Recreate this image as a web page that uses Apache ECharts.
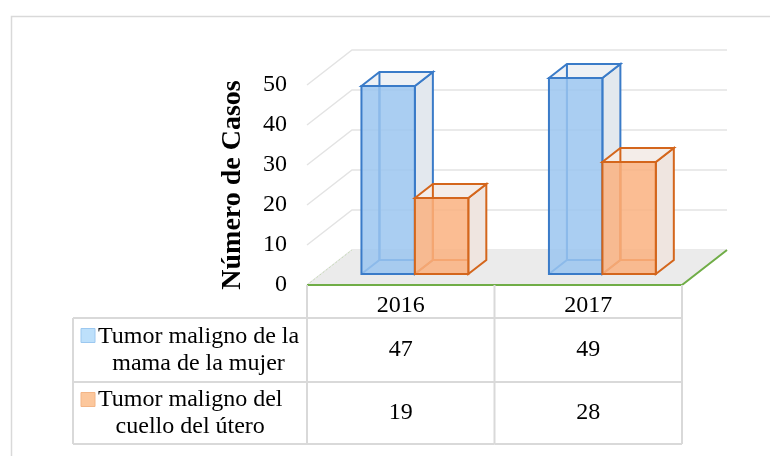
<!DOCTYPE html>
<html>
<head>
<meta charset="utf-8">
<script src="https://cdn.jsdelivr.net/npm/echarts@6/dist/echarts.min.js"></script>
<style>
  html, body { margin: 0; padding: 0; background: #fff; }
  #chart { width: 770px; height: 456px; }
</style>
</head>
<body>
<div id="chart"></div>
<script>
// data
const categories = ['2016', '2017'];
const seriesNames = ['Tumor maligno de la\nmama de la mujer', 'Tumor maligno del\ncuello del útero'];
const mama = [47, 49];
const cuello = [19, 28];
const yTicks = [0, 10, 20, 30, 40, 50];

// fake 3d depth of the floor
const DX = 45, DY = 35;
const FONT = 'Liberation Serif';
const TXT = 24;

const barColors = [
  { stroke: '#3a7bc8', front: 'rgba(155,198,240,0.85)', side: '#e3e8ee', top: '#eef1f5', key: '#bde0fb', keyStroke: '#9cc8f0' },
  { stroke: '#d4661c', front: 'rgba(250,178,128,0.85)', side: '#efe5e0', top: '#f4ede9', key: '#fcc79c', keyStroke: '#f3b586' }
];

const measure = document.createElement('canvas').getContext('2d');
measure.font = TXT + 'px "' + FONT + '"';

function wallItem(params, api) {
  const y = api.coord([0, api.value(1)])[1];
  const gx = params.coordSys.x, gw = params.coordSys.width;
  return {
    type: 'polyline',
    shape: { points: [[gx, y], [gx + DX, y - DY], [gx + gw + DX, y - DY]] },
    style: { stroke: '#e3e3e3', lineWidth: 1.5, fill: null }
  };
}

function floorItem(params, api) {
  const gx = params.coordSys.x, gw = params.coordSys.width;
  const y = api.coord([0, 0])[1];
  return {
    type: 'group',
    children: [
      { type: 'polygon', shape: { points: [[gx, y], [gx + gw, y], [gx + gw + DX, y - DY], [gx + DX, y - DY]] },
        style: { fill: '#ebebeb' } },
      { type: 'line', shape: { x1: gx, y1: y, x2: gx + DX, y2: y - DY },
        style: { stroke: '#c8dcb8', lineWidth: 1, lineDash: [2, 2] } },
      { type: 'polyline', shape: { points: [[gx, y], [gx + gw, y], [gx + gw + DX, y - DY]] },
        style: { stroke: '#70ad47', lineWidth: 2, fill: null } }
    ]
  };
}

function barItem(idx) {
  const c = barColors[idx];
  return function (params, api) {
    const cat = api.value(0), v = api.value(1);
    const base = api.coord([cat, 0]);
    const top = api.coord([cat, v]);
    const band = api.size([1, 0])[0];
    const bw = band * 0.285;
    const fx = DX * 0.314, fy = DY * 0.314;
    const dx = DX * 0.4, dy = DY * 0.4;
    const x0 = base[0] - bw + idx * bw + fx;
    const x1 = x0 + bw;
    const yb = base[1] - fy, yt = top[1] - fy;
    const ls = { stroke: c.stroke, lineWidth: 2, fill: null };
    return {
      type: 'group',
      children: [
        { type: 'polyline', shape: { points: [[x0, yb], [x0 + dx, yb - dy], [x1 + dx, yb - dy]] }, style: ls },
        { type: 'line', shape: { x1: x0 + dx, y1: yb - dy, x2: x0 + dx, y2: yt - dy }, style: ls },
        { type: 'polygon', shape: { points: [[x1, yb], [x1 + dx, yb - dy], [x1 + dx, yt - dy], [x1, yt]] },
          style: { fill: c.side, stroke: c.stroke, lineWidth: 2 } },
        { type: 'polygon', shape: { points: [[x0, yt], [x0 + dx, yt - dy], [x1 + dx, yt - dy], [x1, yt]] },
          style: { fill: c.top, stroke: c.stroke, lineWidth: 2 } },
        { type: 'line', shape: { x1: x0 + dx, y1: yt - dy, x2: x0 + dx, y2: yb - dy }, style: ls },
        { type: 'rect', shape: { x: x0, y: yt, width: bw, height: yb - yt },
          style: { fill: c.front, stroke: c.stroke, lineWidth: 2 } }
      ]
    };
  };
}

// data table under the plot
const ROWS = [33, 97, 159];
function tableItem(params, api) {
  const i = api.value(0);
  const c = api.coord([i, 0]);
  const band = api.size([1, 0])[0];
  const xl = c[0] - band / 2, xr = c[0] + band / 2, y0 = c[1];
  const line = { stroke: '#d9d9d9', lineWidth: 2 };
  const txt = (t, x, y) => ({ type: 'text', style: { text: t, x: x, y: y, align: 'center', verticalAlign: 'middle',
    fontFamily: FONT, fontSize: TXT, fill: '#000' } });
  const ch = [
    { type: 'line', shape: { x1: xr, y1: y0, x2: xr, y2: y0 + ROWS[2] }, style: line },
    txt(categories[i], c[0], y0 + 21),
    txt(String(mama[i]), c[0], y0 + (ROWS[0] + ROWS[1]) / 2),
    txt(String(cuello[i]), c[0], y0 + (ROWS[1] + ROWS[2]) / 2)
  ];
  ROWS.forEach(r => ch.push({ type: 'line', shape: { x1: xl, y1: y0 + r, x2: xr, y2: y0 + r }, style: line }));
  if (i === 0) {
    const lx = xl - 234;
    ch.push({ type: 'line', shape: { x1: xl, y1: y0, x2: xl, y2: y0 + ROWS[2] }, style: line });
    ch.push({ type: 'line', shape: { x1: lx, y1: y0 + ROWS[0], x2: lx, y2: y0 + ROWS[2] }, style: line });
    ROWS.forEach(r => ch.push({ type: 'line', shape: { x1: lx, y1: y0 + r, x2: xl, y2: y0 + r }, style: line }));
    seriesNames.forEach((name, k) => {
      const top = y0 + ROWS[k], mid = (ROWS[k] + ROWS[k + 1]) / 2 + y0;
      const lines = name.split('\n');
      const w = Math.max.apply(null, lines.map(s => measure.measureText(s).width));
      const tx = lx + 25;
      ch.push({ type: 'rect', shape: { x: lx + 8, y: top + 10.5, width: 14, height: 14 },
        style: { fill: barColors[k].key, stroke: barColors[k].keyStroke, lineWidth: 1 } });
      lines.forEach((s, j) => ch.push(txt(s, tx + w / 2, mid + (j - (lines.length - 1) / 2) * 27)));
    });
  }
  return { type: 'group', children: ch };
}

const chart = echarts.init(document.getElementById('chart'));
chart.setOption({
  animation: false,
  graphic: [{
    type: 'rect', left: 9, top: 14, silent: true,
    shape: { width: 800, height: 500 },
    style: { fill: null, stroke: '#d9d9d9', lineWidth: 1.5 }
  }],
  grid: { left: 307, right: 88, top: 85, bottom: 171 },
  xAxis: {
    type: 'category', data: categories,
    axisLine: { show: false }, axisTick: { show: false }, axisLabel: { show: false }
  },
  yAxis: {
    type: 'value', min: 0, max: 50, interval: 10,
    name: 'Número de Casos', nameLocation: 'middle', nameRotate: 90, nameGap: 60,
    nameTextStyle: { fontFamily: FONT, fontSize: 28, fontWeight: 'bold', color: '#000' },
    axisLine: { show: false }, axisTick: { show: false }, splitLine: { show: false },
    axisLabel: { fontFamily: FONT, fontSize: TXT, color: '#000', margin: 20 }
  },
  series: [
    { type: 'custom', renderItem: wallItem, data: yTicks.map(v => [0, v]), silent: true },
    { type: 'custom', renderItem: floorItem, data: [[0, 0]], silent: true },
    { type: 'custom', name: seriesNames[0], renderItem: barItem(0), data: mama.map((v, i) => [i, v]) },
    { type: 'custom', name: seriesNames[1], renderItem: barItem(1), data: cuello.map((v, i) => [i, v]) },
    { type: 'custom', renderItem: tableItem, data: categories.map((c, i) => [i, 0]), silent: true }
  ]
});
</script>
</body>
</html>
